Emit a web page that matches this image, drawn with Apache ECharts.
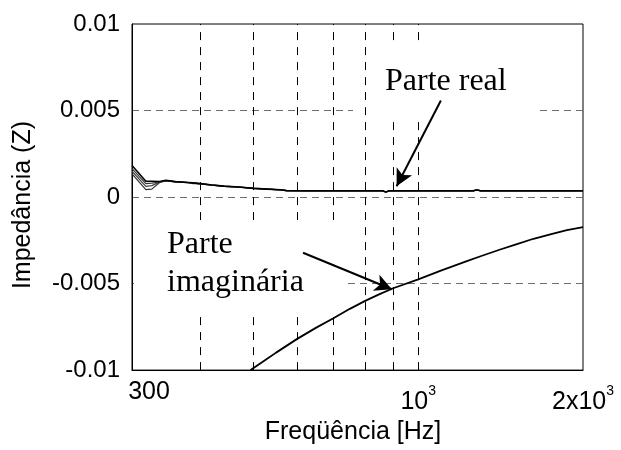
<!DOCTYPE html>
<html>
<head>
<meta charset="utf-8">
<script src="https://cdn.jsdelivr.net/npm/echarts@6/dist/echarts.min.js"></script>
<style>
  html, body { margin: 0; padding: 0; background: #fff; }
  #chart { width: 621px; height: 450px; }
</style>
</head>
<body>
<div id="chart"></div>
<script>
// Frequency samples (Hz) for the real part traces
const realFreq = [300, 318, 326, 337, 346, 360, 380, 388, 396, 420, 442, 470, 500, 530, 560, 575, 620, 700, 800, 860, 873, 885, 1000, 1200, 1260, 1280, 1300, 1400, 1410, 1430, 1600, 1800, 2000];
// Four overlapping real-part traces (Ohm)
const realA = [0.00182, 0.00091, 0.00091, 0.00090, 0.00097, 0.00089, 0.00084, 0.00082, 0.00079, 0.00070, 0.00063, 0.00058, 0.00050, 0.00046, 0.00042, 0.00037, 0.00036, 0.00036, 0.00036, 0.00036, 0.00029, 0.00036, 0.00036, 0.00036, 0.00036, 0.00041, 0.00036, 0.00036, 0.00040, 0.00036, 0.00036, 0.00036, 0.00036];
const realB = [0.00164, 0.00078, 0.00080, 0.00087, 0.00095, 0.00089, 0.00084, 0.00078, 0.00079, 0.00070, 0.00063, 0.00058, 0.00050, 0.00046, 0.00042, 0.00037, 0.00036, 0.00036, 0.00036, 0.00036, 0.00029, 0.00036, 0.00036, 0.00036, 0.00036, 0.00041, 0.00036, 0.00036, 0.00040, 0.00036, 0.00036, 0.00036, 0.00036];
const realC = [0.00149, 0.00062, 0.00066, 0.00086, 0.00094, 0.00088, 0.00083, 0.00082, 0.00078, 0.00069, 0.00062, 0.00057, 0.00052, 0.00046, 0.00042, 0.00037, 0.00036, 0.00036, 0.00036, 0.00036, 0.00029, 0.00036, 0.00036, 0.00036, 0.00036, 0.00041, 0.00036, 0.00036, 0.00040, 0.00036, 0.00036, 0.00036, 0.00036];
const realD = [0.00134, 0.00043, 0.00046, 0.00084, 0.00093, 0.00088, 0.00083, 0.00080, 0.00078, 0.00069, 0.00062, 0.00057, 0.00050, 0.00046, 0.00042, 0.00037, 0.00036, 0.00036, 0.00036, 0.00036, 0.00029, 0.00036, 0.00036, 0.00036, 0.00036, 0.00041, 0.00036, 0.00036, 0.00040, 0.00036, 0.00036, 0.00036, 0.00036];

// Imaginary part
const imagFreq = [494, 520, 550, 600, 650, 700, 750, 800, 850, 900, 1000, 1100, 1227, 1300, 1412, 1500, 1624, 1750, 1869, 2000];
const imagVal = [-0.0100, -0.00952, -0.00899, -0.00821, -0.00756, -0.00700, -0.00646, -0.00600, -0.00561, -0.00527, -0.00476, -0.00425, -0.00370, -0.00342, -0.00303, -0.00276, -0.00241, -0.00214, -0.00191, -0.00174];

// Axis ticks and grid
const xTickValues = [300, 1000, 2000];
const xTickBase = ['300', '10', '2x10'];
const xTickExp = ['', '3', '3'];
const yTickValues = [-0.01, -0.005, 0, 0.005, 0.01];
const yTickLabels = ['-0.01', '-0.005', '0', '0.005', '0.01'];
const xGridFreq = [400, 500, 600, 700, 800, 900, 1000];

// Annotation arrows: [tail, head] in (Hz, Ohm)
const realArrow = [[1100, 0.00558], [913, 0.00062]];
const imagArrow = [[616, -0.00322], [895, -0.00533]];

const sans = '"Liberation Sans", Arial, sans-serif';
const serif = '"Liberation Serif", "Times New Roman", serif';

function pairs(xs, ys) { return xs.map((x, i) => [x, ys[i]]); }

function realSeries(vals, color, width, extra) {
  return Object.assign({
    type: 'line',
    data: pairs(realFreq, vals),
    showSymbol: false,
    symbol: 'none',
    silent: true,
    z: 3,
    lineStyle: { color: color, width: width },
    animation: false
  }, extra || {});
}

const chart = echarts.init(document.getElementById('chart'), null, { renderer: 'canvas' });

chart.setOption({
  animation: false,
  backgroundColor: '#fff',
  grid: {
    left: 132, right: 38, top: 24, bottom: 79,
    show: true, borderColor: '#000', borderWidth: 1, backgroundColor: 'transparent'
  },
  xAxis: {
    type: 'log',
    logBase: 10,
    min: 300,
    max: 2000,
    axisLine: { show: true, onZero: false, lineStyle: { color: '#000', width: 1 } },
    axisTick: { show: false },
    splitLine: { show: false },
    minorSplitLine: { show: false },
    axisLabel: {
      showMinLabel: true,
      showMaxLabel: true,
      margin: 10,
      color: '#000',
      formatter: function (v) {
        for (let i = 0; i < xTickValues.length; i++) {
          if (Math.abs(v - xTickValues[i]) < 1) {
            if (xTickExp[i] === '') return '{first|' + xTickBase[i] + '}';
            return '{base|' + xTickBase[i] + '}{sup|' + xTickExp[i] + '}';
          }
        }
        return '';
      },
      rich: {
        first: { fontFamily: sans, fontSize: 25, lineHeight: 25, color: '#000', padding: [0, 0, 0, 34] },
        base: { fontFamily: sans, fontSize: 25, lineHeight: 25, color: '#000', padding: [20, 0, 0, 0] },
        sup: { fontFamily: sans, fontSize: 14, lineHeight: 14, color: '#000', padding: [0, 0, 2, 0] }
      }
    },
    name: 'Freqüência [Hz]',
    nameLocation: 'middle',
    nameGap: 45,
    nameTextStyle: { fontFamily: sans, fontSize: 25, color: '#000', lineHeight: 25, padding: [0, 9, 0, 0] }
  },
  yAxis: {
    type: 'value',
    min: -0.01,
    max: 0.01,
    interval: 0.005,
    axisLine: { show: true, onZero: false, lineStyle: { color: '#000', width: 1 } },
    axisTick: { show: false },
    splitLine: {
      show: true, showMinLine: false, showMaxLine: false,
      lineStyle: { color: '#6e6e6e', width: 1, type: [7, 5] }
    },
    axisLabel: {
      margin: 12,
      color: '#000',
      fontFamily: sans,
      fontSize: 24,
      padding: [6, 0, 0, 0],
      formatter: function (v) {
        for (let i = 0; i < yTickValues.length; i++) {
          if (Math.abs(v - yTickValues[i]) < 1e-9) return yTickLabels[i];
        }
        return '';
      }
    },
    name: 'Impedância (Z)',
    nameLocation: 'middle',
    nameGap: 96,
    nameTextStyle: { fontFamily: sans, fontSize: 25, color: '#000', lineHeight: 25, padding: [0, 16, 0, 0] }
  },
  series: [
    realSeries(realD, '#333', 1.2),
    realSeries(realC, '#444', 1.2),
    realSeries(realB, '#333', 1.2),
    realSeries(realA, '#000', 1.6, {
      markLine: {
        silent: true,
        z: 1,
        symbol: 'none',
        label: { show: false },
        animation: false,
        lineStyle: { color: '#000', width: 1, type: [8, 7] },
        emphasis: { disabled: true },
        data: xGridFreq.map(f => ({ xAxis: f }))
      }
    }),
    {
      type: 'line',
      data: pairs(imagFreq, imagVal),
      showSymbol: false,
      symbol: 'none',
      silent: true,
      z: 3,
      lineStyle: { color: '#000', width: 1.8 },
      animation: false,
      markLine: {
        silent: true,
        z: 6,
        symbol: ['none', 'arrow'],
        symbolSize: [13, 17],
        label: { show: false },
        animation: false,
        lineStyle: { color: '#000', width: 2, type: 'solid' },
        itemStyle: { color: '#000' },
        emphasis: { disabled: true },
        data: [
          [{ coord: realArrow[0] }, { coord: realArrow[1] }],
          [{ coord: imagArrow[0] }, { coord: imagArrow[1] }]
        ]
      }
    }
  ],
  graphic: [
    { type: 'rect', silent: true, z: 2, shape: { x: 370, y: 45, width: 165, height: 73 }, style: { fill: '#fff' } },
    { type: 'rect', silent: true, z: 0.5, shape: { x: 353, y: 106, width: 17, height: 6 }, style: { fill: '#fff' } },
    { type: 'rect', silent: true, z: 2, shape: { x: 134, y: 222, width: 212, height: 95 }, style: { fill: '#fff' } },
    { type: 'text', silent: true, z: 7, x: 385, y: 82, style: { text: 'Parte real', font: '32px ' + serif, fill: '#000', verticalAlign: 'middle', align: 'left' } },
    { type: 'text', silent: true, z: 7, x: 167, y: 245, style: { text: 'Parte', font: '32px ' + serif, fill: '#000', verticalAlign: 'middle', align: 'left' } },
    { type: 'text', silent: true, z: 7, x: 167, y: 282.5, style: { text: 'imaginária', font: '32px ' + serif, fill: '#000', verticalAlign: 'middle', align: 'left' } }
  ]
});
</script>
</body>
</html>
